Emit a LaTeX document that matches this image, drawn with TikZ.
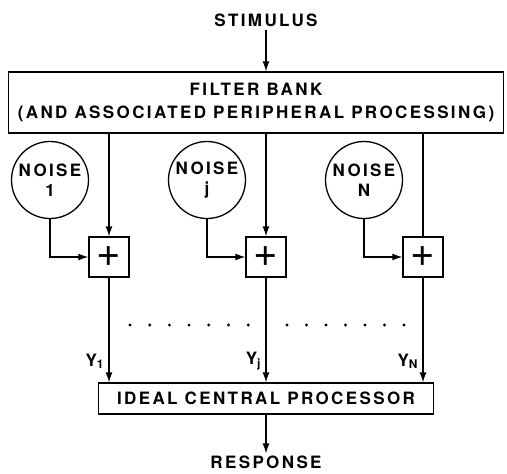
\documentclass[tikz,border=0pt]{standalone}
\usepackage{fontspec}
\newfontfamily\letterfont{TeX Gyre Heros}[LetterSpace=14]
\newfontfamily\plusfont{TeX Gyre Heros}
\usetikzlibrary{arrows.meta,positioning,calc}

\begin{document}
\begin{tikzpicture}[
    x=1pt, y=-1pt,
    font=\letterfont\bfseries\fontsize{17}{20}\selectfont,
    box/.style={rectangle, draw, line width=1.3pt, align=center, inner sep=0pt},
    noise/.style={circle, draw, line width=1.3pt, minimum size=77pt, inner sep=0pt, align=center},
    adder/.style={rectangle, draw, line width=1.3pt, minimum size=40pt, inner sep=0pt, font=\plusfont\fontsize{42}{42}\selectfont},
    line/.style={-{Latex[length=10pt,width=7pt]}, line width=1.3pt},
    plain/.style={line width=1.3pt},
    ylabel/.style={left=1pt, pos=0.8}
]
    \useasboundingbox (0,0) rectangle (507,474);

    \node (stim) at (266,20) {STIMULUS};
    \node[box, minimum width=495pt, minimum height=61pt] (bank) at (256,102.5) {FILTER BANK\\[3pt](AND ASSOCIATED PERIPHERAL PROCESSING)};

    \node[noise] (n1) at (50,180) {NOISE\\[0pt]1};
    \node[noise] (nj) at (207,180) {NOISE\\[0pt]j};
    \node[noise] (nN) at (364,180) {NOISE\\[0pt]N};

    \node[adder] (s1) at (109,257) {+};
    \node[adder] (sj) at (266,257) {+};
    \node[adder] (sN) at (423,257) {+};

    \node[box, minimum width=335pt, minimum height=31pt] (proc) at (266,398.5) {IDEAL CENTRAL PROCESSOR};
    \node[inner sep=2pt] (resp) at (266,462) {RESPONSE};

    \draw[line] (stim) -- (stim |- bank.north);
    \draw[line] (bank.south -| s1) -- (s1);
    \draw[line] (bank.south -| sj) -- (sj);
    \draw[plain] (bank.south -| sN) -- (sN);
    \foreach \n in {1,j,N}
        \draw[line] (n\n) |- (s\n);

    % channel outputs
    \draw[line] (s1) -- (s1 |- proc.north) node[ylabel] {Y\textsubscript{1}};
    \draw[line] (sj) -- (sj |- proc.north) node[ylabel] {Y\textsubscript{j}};
    \draw[line] (sN) -- (sN |- proc.north) node[ylabel] {Y\textsubscript{N}};
    \foreach \i in {0,...,6} {
        \fill (130+19.7*\i,325) circle (1.6);
        \fill (287+19.5*\i,325) circle (1.6);
    }

    \draw[line] (proc) -- (resp);
\end{tikzpicture}
\end{document}
